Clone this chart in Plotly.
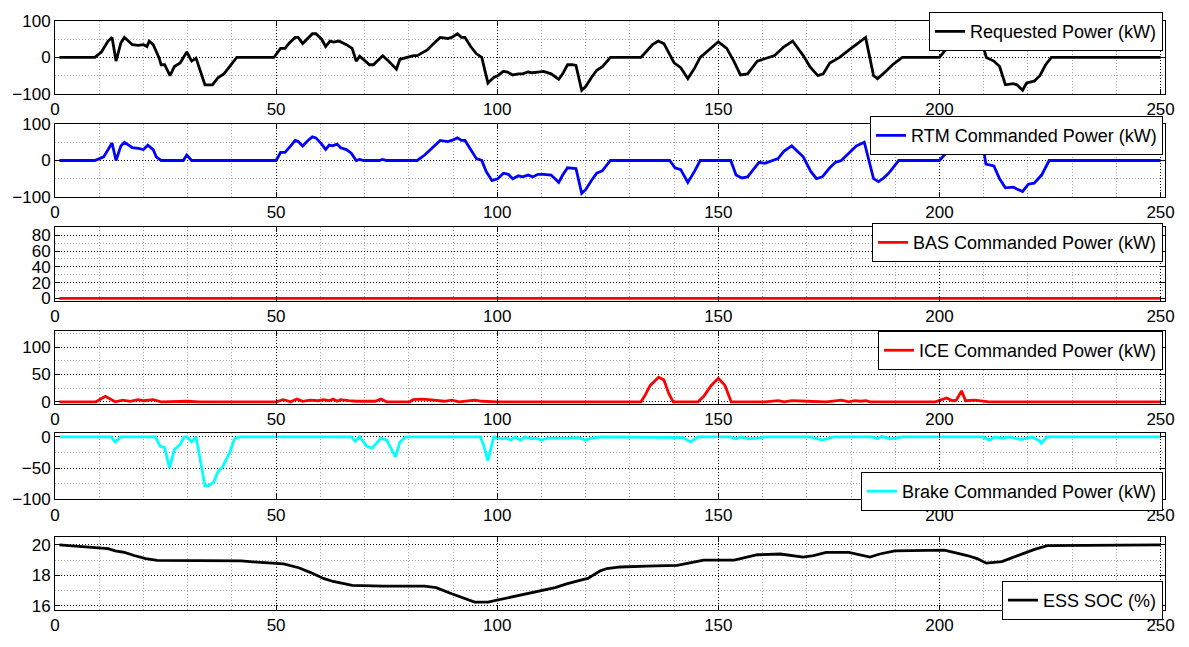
import plotly.graph_objects as go

# ---------------- data ----------------
t_req = [1, 9, 10.5, 12, 12.9, 13.8, 14.9, 15.7, 17.5, 18.8, 20, 20.8, 21.3, 22.2, 23.5, 24, 24.8, 26, 27, 28.3,
         29.8, 30.9, 31.9, 33.9, 35.6, 36.9, 38.2, 41.1, 49.5, 51, 52, 53, 54.3, 55, 56, 57.4, 58.2, 59, 60.3, 61.2,
         62.2, 63, 64.2, 65.9, 67.2, 68.1, 68.9, 70.2, 71.1, 72, 74.1, 75.4, 77.2, 78, 79.8, 81.1, 81.9, 84.1, 85.8,
         87.1, 88.8, 89.7, 91, 91.9, 92.7, 94, 95.3, 96.5, 97.9, 99.2, 100.1, 101.4, 102.3, 103.5, 104.8, 105.7, 107,
         107.9, 109.2, 110.5, 112.2, 113.9, 114.8, 115.9, 117, 117.8, 119.1, 120, 121.3, 122.5, 123.8, 125.6, 132.5,
         135.1, 136.4, 137.7, 140, 141.5, 143.1, 144.6, 145.9, 150, 151.9, 153.5, 155, 156.6, 158.8, 160.1, 162.7,
         164.9, 166.8, 169.2, 170.7, 172.5, 173.7, 175.2, 177.4, 179.5, 182.6, 183.3, 185.1, 186, 187.7, 189.4, 191.6,
         200, 202, 203.3, 204.3, 205.8, 207.2, 208.2, 210.6, 212.3, 213.6, 214.9, 216.7, 217.5, 218.8, 219.7, 221.4,
         222.7, 224, 225.3, 250]
p_req = [0, 0, 15, 45, 55, -10, 40, 55, 35, 33, 35, 30, 45, 35, 0, -20, -20, -50, -25, -15,
         15, -10, -2, -75, -75, -55, -45, 0, 0, 25, 25, 40, 55, 55, 38, 55, 65, 65, 50, 30,
         45, 42, 45, 35, 25, -10, 3, -10, -20, -20, 5, -10, -32, -5, 0, 5, 5, 20, 40,
         55, 52, 55, 65, 55, 55, 30, 10, 0, -70, -55, -50, -38, -40, -48, -45, -45, -40,
         -42, -40, -38, -45, -60, -45, -20, -20, -22, -90, -80, -55, -35, -25, 0, 0,
         35, 45, 38, -15, -28, -58, -30, 0, 43, 25, -10, -48, -45, -10, -5, 5,
         30, 45, 5, -25, -50, -45, -15, 0, 20, 50, 55, -50, -58, -40, -20, 0,
         0, 30, 100, 110, 88, 112, 100, 0, -10, -25, -75, -72, -75, -90, -70, -65,
         -50, -20, 0, 0]

t_rtm = [1, 9, 11, 11.9, 12.9, 13.8, 14.9, 15.7, 17.5, 18.8, 20, 21, 22.2, 22.9, 24, 29, 29.8, 30.9, 50, 51, 52,
         53.3, 54.3, 55, 56, 57.2, 58.2, 59, 60.3, 61.2, 62, 62.7, 63.8, 64.6, 65.9, 67, 68.1, 68.9, 69.8, 73.3,
         74.1, 75, 81.9, 83.6, 85.3, 87.1, 88.8, 89.7, 91, 91.9, 92.7, 94, 95.3, 96.5, 97.5, 98.8, 100.1, 101.4,
         102.5, 103.5, 104.8, 105.7, 107, 108, 109.2, 110.5, 112.2, 113.9, 114.8, 115.9, 117.8, 119.1, 120, 121.3,
         122.5, 123.8, 125.6, 139, 140.2, 141.5, 143.1, 144.6, 145.9, 152.8, 154, 155.3, 156.6, 157.9, 159.2, 160.5,
         162.2, 163.5, 164.8, 166.6, 169.2, 170.9, 172.2, 173.5, 175.2, 176.5, 177.8, 179.5, 181.2, 183, 185.1,
         186.2, 187.2, 188.5, 189.4, 190.8, 200, 202.5, 204.5, 206.5, 208.2, 209, 210.5, 212.3, 213.6, 214.9,
         216.7, 217.5, 218.8, 220.1, 221.4, 223.1, 224.8, 250]
p_rtm = [0, 0, 10, 30, 48, 0, 40, 50, 35, 33, 30, 42, 30, 10, 0, 0, 15, 0, 0, 22, 22,
         40, 55, 52, 40, 55, 65, 62, 45, 30, 42, 40, 45, 35, 30, 20, 0, 3, 0, 0,
         3, 0, 0, 15, 35, 55, 52, 55, 62, 55, 55, 30, 5, 0, -30, -55, -50, -35,
         -38, -50, -42, -45, -40, -45, -38, -38, -40, -60, -40, -20, -22, -90, -80, -55,
         -35, -28, 0, 0, -20, -25, -60, -30, 0, 0, -40, -48, -45, -25, -5, -8,
         0, 5, 25, 40, 10, -30, -50, -45, -20, -5, 0, 20, 40, 50, -50,
         -58, -50, -35, -20, 0, 0, 35, 55, 80, 100, 105, -10, -15, -50, -75,
         -73, -78, -85, -65, -62, -40, 0, 0]

t_bas = [1, 250]
p_bas = [0, 0]

t_ice = [1, 9.3, 10.5, 11.4, 12.5, 13.6, 15.3, 17, 18.8, 20, 22.2, 24, 30, 32.6, 50, 51.6, 53.3, 54.7, 56, 57.7,
         59.5, 60.7, 62, 62.9, 63.8, 64.6, 66.4, 68.1, 72.4, 73.7, 75, 80.2, 81, 82.8, 84.5, 86.2, 88, 89.7, 91.4,
         94.9, 96.6, 100, 132.5, 133.3, 134.6, 136.5, 137.7, 138.8, 139.8, 145.4, 146.7, 148.4, 150, 151.5, 152.9,
         160.5, 163.6, 164.9, 166.6, 170, 174.4, 177.8, 179.5, 180.8, 182.1, 183.4, 184.3, 199.1, 200.4, 201.6,
         202.9, 203.8, 205, 205.9, 208, 209.8, 211.2, 250]
p_ice = [0, 0, 6, 10, 5, 0, 3, 1, 4, 2, 4, 0, 1, 0, 0, 4, 0, 5, 1, 3,
         2, 4, 2, 5, 1, 4, 2, 1, 1, 5, 0, 0, 4, 5, 4, 3, 1, 3, 0,
         3, 1, 0, 0, 10, 30, 45, 40, 15, 0, 0, 10, 30, 43, 30, 0,
         0, 2, 0, 2, 1, 0, 3, 0, 2, 1, 2, 0, 0, 4, 7,
         2, 3, 20, 2, 3, 2, 0, 0]

t_brk = [1, 12.7, 13.6, 14.9, 22.7, 23.8, 24.8, 25.9, 27, 28.3, 29.2, 29.9, 30.9, 31.9, 33.9, 34.8, 35.9, 36.9,
         37.9, 39.5, 40.6, 41.7, 67, 67.9, 68.9, 70.5, 71.7, 73.7, 75, 77, 78, 79.3, 96.2, 97, 97.9, 99.2, 100.9,
         102.2, 103.1, 104, 105.3, 106.2, 107.9, 108.8, 110, 111.4, 115.7, 118.3, 120, 121.3, 123.3, 140, 142,
         143.7, 145.4, 152.8, 154, 154.9, 157, 158.8, 160.5, 170.9, 173.5, 176.1, 184.7, 186, 186.9, 189, 191.6,
         209.9, 211.2, 212.5, 214.2, 215.9, 218.3, 220.9, 222.6, 223, 224.3, 250]
p_brk = [0, 0, -8, 0, 0, -15, -17, -50, -20, -12, 0, 0, -8, 0, -78, -78, -72, -55,
         -48, -25, -3, 0, 0, -7, 0, -15, -18, -2, -5, -32, -8, 0, 0, -15, -38, 0, -3,
         -2, -5, 0, -5, 0, -3, -2, -5, -2, -2, -1, -5, -2, 0, 0, -1,
         -8, 0, 0, -3, 0, -3, -2, 0, 0, -5, 0, 0, -3, 1, -3, 0,
         0, -5, 0, -2, 0, -4, 0, -6, -10, 0, 0]

t_soc = [1, 5, 10.1, 12, 13.6, 15.7, 17.9, 20.5, 23.1, 32.6, 42.1, 46.5, 51.7, 55.1, 57.7, 60.7, 62.9, 67.2, 74.1,
         83.6, 86.2, 89.7, 93.2, 94.9, 97.9, 101, 105.3, 109.6, 113.1, 115.7, 117.5, 119.1, 120.5, 122, 123.3,
         124.8, 127.8, 133.8, 140.7, 144.1, 146.7, 153.6, 156, 158.8, 164, 166.5, 169.2, 171.5, 174.4, 179.5,
         182, 184.3, 186.5, 189.9, 201.1, 203.5, 206.3, 208.5, 210.6, 214.1, 216, 218.4, 221.5, 224.4, 250]
p_soc = [20, 19.9, 19.8, 19.75, 19.6, 19.5, 19.3, 19.1, 18.98, 18.97, 18.95, 18.85, 18.75, 18.5, 18.2, 17.8, 17.6,
         17.35, 17.3, 17.3, 17.2, 16.8, 16.4, 16.25, 16.25, 16.45, 16.7, 17.0, 17.2, 17.45, 17.6, 17.7, 17.8, 18.05,
         18.3, 18.45, 18.55, 18.6, 18.65, 18.85, 19.0, 19.0, 19.15, 19.35, 19.4, 19.3, 19.2, 19.3, 19.5, 19.5,
         19.35, 19.2, 19.4, 19.6, 19.65, 19.5, 19.3, 19.1, 18.8, 18.9, 19.1, 19.4, 19.7, 19.95, 20]

names = ["Requested Power (kW)", "RTM Commanded Power (kW)", "BAS Commanded Power (kW)",
         "ICE Commanded Power (kW)", "Brake Commanded Power (kW)", "ESS SOC (%)"]
x_ticks = [0, 50, 100, 150, 200, 250]
y_ticks = [[-100, 0, 100], [-100, 0, 100], [0, 20, 40, 60, 80], [0, 50, 100], [-100, -50, 0], [16, 18, 20]]

# ---------------- layout helpers ----------------
W, H = 1189, 647
ML, MR, MT, MB = 54, 24, 13, 25
PW, PH = W - ML - MR, H - MT - MB


def py(p):
    return 1 - (p - MT) / PH


def px(p):
    return (p - ML) / PW


series = [(t_req, p_req), (t_rtm, p_rtm), (t_bas, p_bas), (t_ice, p_ice), (t_brk, p_brk), (t_soc, p_soc)]
colors = ["#000000", "#0000ff", "#ff0000", "#ff0000", "#00ffff", "#000000"]
domains_px = [(13, 88), (119, 194), (225, 301), (332, 407), (437, 505), (544, 619)]
yranges = [[-100, 100], [-100, 100], [-3.3, 90.4], [-4, 129.4], [-100, 6.1], [15.73, 20.5]]
minor_dt = [50, 50, 10, 25, 25, 1]
# legend vertical centre (pixel, as placed)
leg_mid = [24, 131, 241, 352, 497, 609]

FONT = "Liberation Sans, Arial, Helvetica, sans-serif"
fig = go.Figure()
layout = dict(
    width=W, height=H,
    margin=dict(l=ML, r=MR, t=MT, b=MB, pad=0),
    paper_bgcolor="white", plot_bgcolor="white",
    font=dict(family=FONT, size=17, color="black"),
    showlegend=True,
)

for i in range(6):
    k = "" if i == 0 else str(i + 1)
    t, v = series[i]
    lname = "legend" if i == 0 else f"legend{i + 1}"
    fig.add_trace(go.Scatter(x=t, y=v, mode="lines", name=names[i],
                             line=dict(color=colors[i], width=2.8, shape="linear"),
                             xaxis="x" + k, yaxis="y" + k, legend=lname))
    top, bot = domains_px[i]
    common_grid = dict(showgrid=True, gridcolor="#000000", griddash="1px,2px", gridwidth=1,
                       showline=True, linecolor="black", linewidth=1, mirror="ticks",
                       ticks="inside", ticklen=5, tickcolor="black", zeroline=False,
                       tickfont=dict(family=FONT, size=17, color="black"))
    layout["xaxis" + k] = dict(domain=[0, 1], anchor="y" + k, range=[0, 251], tickvals=x_ticks,
                               minor=dict(dtick=10, tick0=0, showgrid=True, gridcolor="#a8a8a8",
                                          griddash="1px,2px", gridwidth=1, ticks=""),
                               **common_grid)
    layout["yaxis" + k] = dict(domain=[py(bot), py(top)], anchor="x" + k, range=yranges[i],
                               tickvals=y_ticks[i],
                               minor=dict(dtick=minor_dt[i], tick0=0, showgrid=True, gridcolor="#a8a8a8",
                                          griddash="1px,2px", gridwidth=1, ticks=""),
                               **common_grid)
    layout[lname] = dict(x=px(1163), y=py(leg_mid[i]), xanchor="right", yanchor="middle",
                         bgcolor="white", bordercolor="black", borderwidth=1,
                         font=dict(family=FONT, size=18, color="black"),
                         itemwidth=30, tracegroupgap=0)

fig.update_layout(**layout)
fig.write_html("out.html")
